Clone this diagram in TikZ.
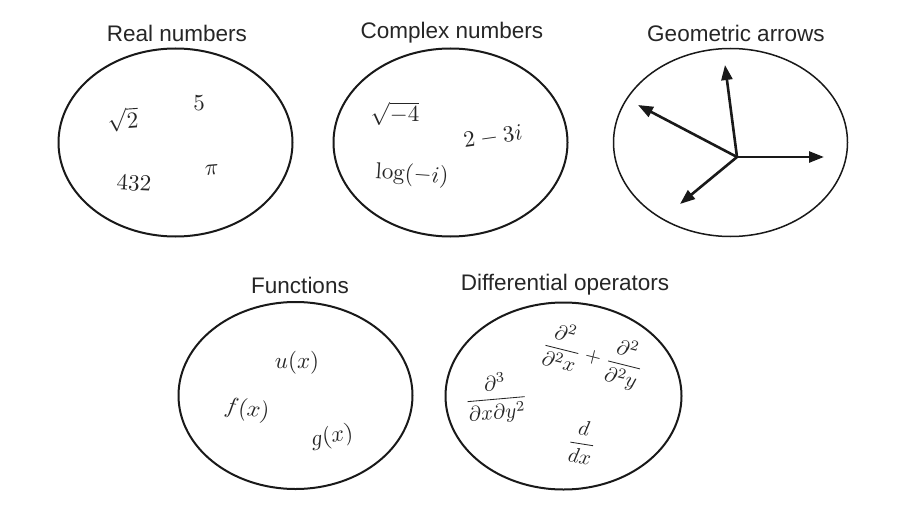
\documentclass[tikz,border=0pt]{standalone}
\usepackage{fontspec}
\usepackage{graphicx}
\newfontfamily\titlefont{Liberation Sans}
\newcommand{\mymt}[1]{\scalebox{2.3}{$#1$}}
\newcommand{\mymtd}[1]{\scalebox{2.1}{$#1$}}
\usetikzlibrary{shapes.geometric,arrows.meta}
\begin{document}
\begin{tikzpicture}[x=1pt,y=-1pt,
  setell/.style={draw=black!90, ellipse, line width=2pt, inner sep=0pt},
  thinset/.style={setell, line width=1.5pt},
  ttl/.style={font=\titlefont\fontsize{22.5}{26}\selectfont, text=black!85, inner sep=0pt},
  mth/.style={text=black!85, inner sep=0pt},
  vec/.style={line width=2.6pt, draw=black!90, -{Triangle[length=15pt,width=11pt]}}]
\useasboundingbox[fill=white] (0,0) rectangle (912,508);
% sets
\node[setell, minimum width=234pt, minimum height=188pt] (e1) at (175.5,142.5) {};
\node[setell, minimum width=234pt, minimum height=188pt] (e2) at (450.5,142.5) {};
\node[thinset, minimum width=234pt, minimum height=188pt] (e3) at (730.5,142.5) {};
\node[setell, minimum width=234pt, minimum height=187pt] (e4) at (295.5,395.5) {};
\node[setell, minimum width=236pt, minimum height=187pt] (e5) at (563.5,396) {};
% titles
\node[ttl] (t1) at (177,33) {Real numbers};
\node[ttl] (t2) at (452,33) {Complex numbers};
\node[ttl] (t3) at (736,33) {Geometric arrows};
\node[ttl] (t4) at (300,285) {Functions};
\node[ttl] (t5) at (565,285) {Differential operators};
% real numbers
\node[mth, rotate=4] (r1) at (123,120) {\mymt{\sqrt{2}}};
\node[mth] (r2) at (199,103) {\mymt{5}};
\node[mth, rotate=-3] (r3) at (134,183) {\mymt{432}};
\node[mth, rotate=5] (r4) at (212,170) {\mymt{\pi}};
% complex numbers
\node[mth] (c1) at (395,114) {\mymt{\sqrt{-4}}};
\node[mth, rotate=8] (c2) at (493,137) {\mymt{2-3i}};
\node[mth, rotate=-4] (c3) at (412,175) {\mymt{\log(-i)}};
% arrows
\coordinate (o) at (737,157);
\coordinate (a1) at (725,65);
\coordinate (a2) at (638,105);
\coordinate (a3) at (824,157);
\coordinate (a4) at (680,204);
\draw[vec] (o) -- (a1);
\draw[vec] (o) -- (a2);
\draw[vec] (o) -- (a3);
\draw[vec] (o) -- (a4);
% functions
\node[mth] (f1) at (297,363) {\mymt{u(x)}};
\node[mth, rotate=-9] (f2) at (247,410) {\mymt{f(x)}};
\node[mth, rotate=9] (f3) at (332,437) {\mymt{g(x)}};
% differential operators
\node[mth, rotate=-14] (d1) at (593,356) {\mymtd{\displaystyle\frac{\partial^2}{\partial^2 x}+\frac{\partial^2}{\partial^2 y}}};
\node[mth, rotate=5] (d2) at (496,398) {\mymtd{\displaystyle\frac{\partial^3}{\partial x\partial y^2}}};
\node[mth, rotate=-9] (d3) at (582,442) {\mymtd{\displaystyle\frac{d}{dx}}};
\end{tikzpicture}
\end{document}
